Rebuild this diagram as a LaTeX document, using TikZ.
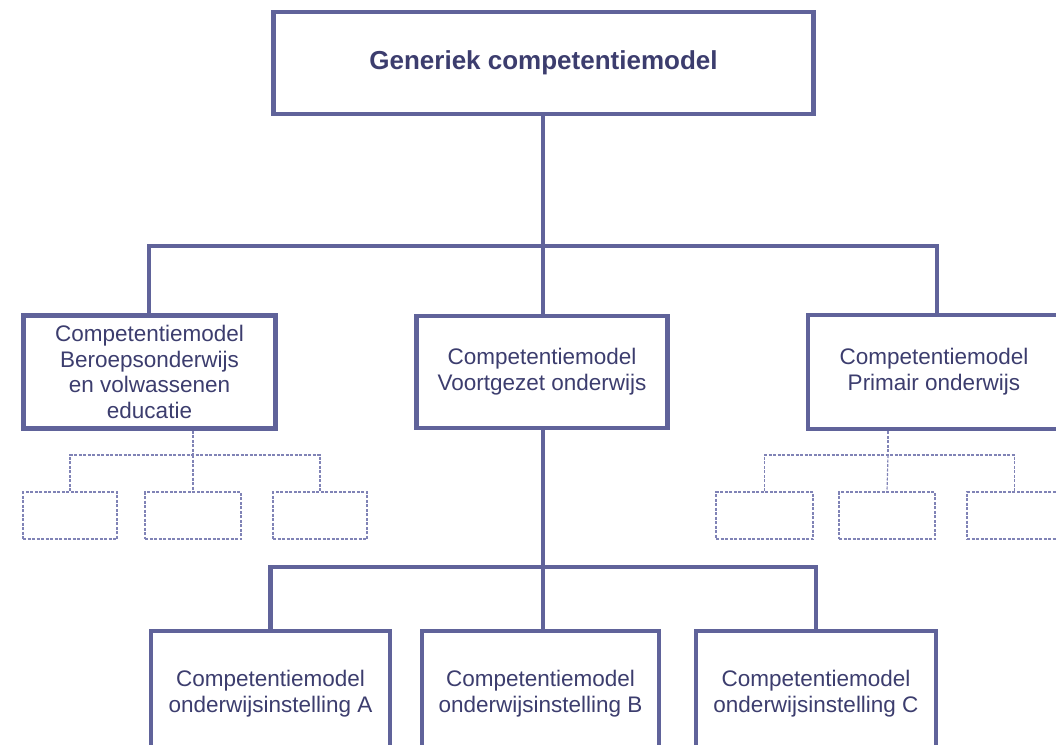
\documentclass[tikz,border=0pt]{standalone}
\usepackage{fontspec}
\setmainfont{Liberation Sans}
\definecolor{linec}{HTML}{60639A}
\definecolor{textc}{HTML}{3C3D6E}
\definecolor{dashc}{HTML}{8083B6}
\tikzset{
  mainbox/.style={draw=linec, line width=4.5pt, fill=white, inner sep=0pt, align=center,
    text=textc, font=\fontsize{22.5}{25.7}\selectfont},
  smallbox/.style={draw=dashc, line width=1.2pt, dash pattern=on 3pt off 1.5pt,
    inner sep=0pt, minimum width=95pt, minimum height=47pt},
  conn/.style={draw=linec, line width=4.5pt},
  dconn/.style={draw=dashc, line width=1.2pt, dash pattern=on 3pt off 1.5pt}
}
\begin{document}
\begin{tikzpicture}[x=1pt,y=-1pt]
\useasboundingbox (0,0) rectangle (1056,744);
\clip (0,0) rectangle (1056,744);
\coordinate (bar1) at (543,246);
\coordinate (bar2) at (543,567);
\coordinate (lbar) at (193,455);
\coordinate (rbar) at (888,455);
\node[mainbox, minimum width=540pt, minimum height=102pt,
  font=\fontsize{26}{30}\selectfont\bfseries] (top) at (543.5,63) {\raisebox{4pt}{Generiek competentiemodel}};
\node[mainbox, minimum width=252pt, minimum height=113pt] (L) at (149.5,372)
  {Competentiemodel\\Beroepsonderwijs\\en volwassenen\\educatie};
\node[mainbox, minimum width=251pt, minimum height=112pt] (M) at (542,372)
  {Competentiemodel\\Voortgezet onderwijs};
\node[mainbox, minimum width=252pt, minimum height=114pt] (R) at (934,372)
  {Competentiemodel\\Primair onderwijs};
\node[mainbox, minimum width=239pt, minimum height=126pt] (A) at (270.5,694)
  {Competentiemodel\\onderwijsinstelling A};
\node[mainbox, minimum width=237pt, minimum height=126pt] (B) at (540.5,694)
  {Competentiemodel\\onderwijsinstelling B};
\node[mainbox, minimum width=240pt, minimum height=126pt] (C) at (816,694)
  {Competentiemodel\\onderwijsinstelling C};
\node[smallbox, minimum width=94pt] (L1) at (70,515.5) {};
\node[smallbox, minimum width=96pt] (L2) at (193,515.5) {};
\node[smallbox, minimum width=94pt] (L3) at (320,515.5) {};
\node[smallbox, minimum width=97pt] (R1) at (764.5,515.5) {};
\node[smallbox, minimum width=96pt] (R2) at (887,515.5) {};
\node[smallbox, minimum width=95pt] (R3) at (1014.5,515.5) {};
\draw[conn] (top.south -| bar1) -- (bar1);
\draw[conn, line cap=rect] (L.north -| 149,0) |- (bar1) -| (R.north -| 937,0);
\draw[conn] (bar1) -- (M.north -| bar1);
\draw[conn] (M.south -| bar2) -- (bar2);
\draw[conn, line cap=rect] (A.north) |- (bar2) -| (C.north);
\draw[conn] (bar2) -- (B.north -| bar2);
\draw[dconn] (L.south -| lbar) -- (lbar);
\draw[dconn] (L1.north) |- (lbar) -| (L3.north);
\draw[dconn] (lbar) -- (L2.north);
\draw[dconn] (R.south -| rbar) -- (rbar);
\draw[dconn] (R1.north) |- (rbar) -| (R3.north);
\draw[dconn] (rbar) -- (R2.north);
\end{tikzpicture}
\end{document}
